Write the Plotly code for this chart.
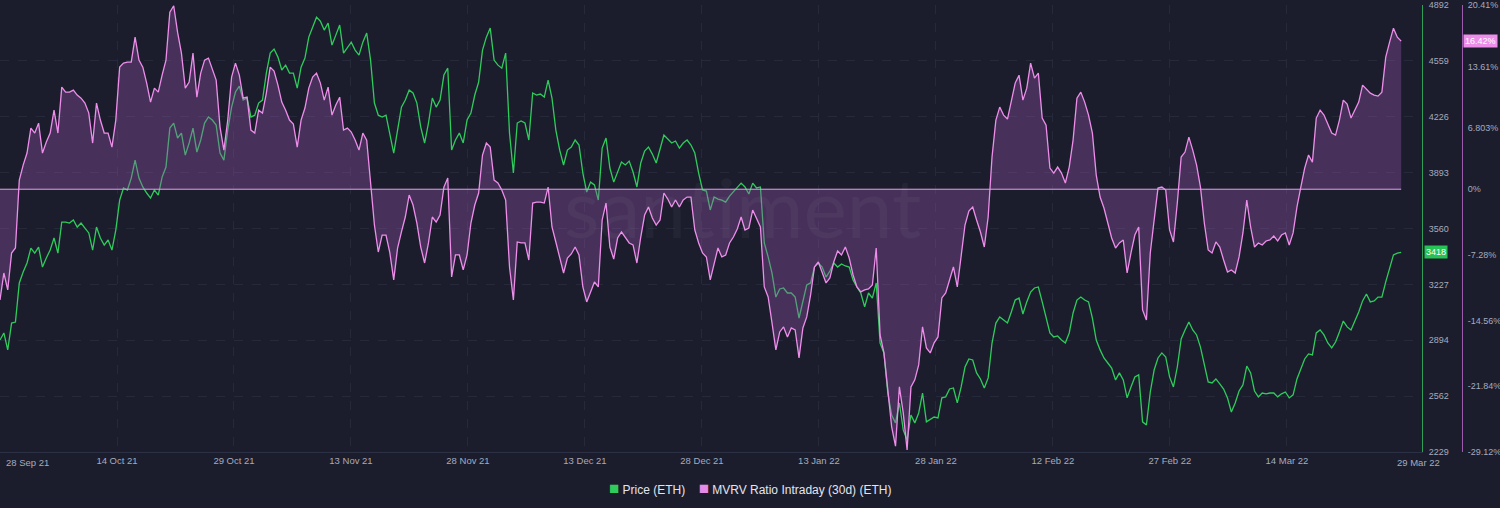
import pandas as pd
import plotly.graph_objects as go

# ---------------- data (12-hourly samples) ----------------
START = "2021-09-28 18:00"
STEP = "12h"

PRICE = [
    2896, 2938, 2837, 2997, 3003, 3236, 3301, 3355, 3444, 3414,
    3450, 3331, 3385, 3432, 3504, 3414, 3599, 3599, 3593, 3611,
    3569, 3593, 3563, 3534, 3432, 3569, 3504, 3462, 3492, 3432,
    3551, 3730, 3802, 3790, 3861, 3968, 3861, 3808, 3772, 3742,
    3790, 3760, 3867, 3927, 4159, 4189, 4100, 4129, 3998, 4070,
    4159, 4016, 4088, 4189, 4225, 4207, 4177, 4010, 3968, 4147,
    4284, 4374, 4409, 4326, 4338, 4225, 4236, 4308, 4326, 4487,
    4606, 4630, 4582, 4505, 4534, 4487, 4487, 4397, 4522, 4576,
    4701, 4761, 4820, 4796, 4743, 4785, 4654, 4713, 4773, 4606,
    4636, 4671, 4624, 4594, 4671, 4725, 4564, 4308, 4236, 4225,
    4236, 4117, 4010, 4147, 4284, 4326, 4385, 4368, 4308, 4165,
    4070, 4189, 4338, 4284, 4326, 4475, 4516, 4028, 4088, 4129,
    4070, 4207, 4248, 4356, 4433, 4624, 4701, 4755, 4564, 4534,
    4516, 4606, 4129, 3891, 4189, 4201, 4189, 4088, 4368, 4356,
    4362, 4344, 4445, 4338, 4147, 4028, 3939, 4028, 4046, 4088,
    4058, 3891, 3778, 3837, 3820, 3730, 4040, 4100, 3921, 3837,
    3897, 3957, 3939, 3962, 3897, 3808, 3951, 4022, 4046, 4004,
    3951, 4028, 4117, 4094, 4070, 4082, 4040, 4070, 4088, 4058,
    4010, 3891, 3790, 3784, 3671, 3748, 3736, 3730, 3718, 3754,
    3778, 3802, 3831, 3808, 3766, 3831, 3802, 3808, 3474, 3391,
    3295, 3152, 3200, 3206, 3176, 3176, 3152, 3027, 3117, 3224,
    3236, 3331, 3355, 3331, 3271, 3307, 3355, 3331, 3349, 3337,
    3331, 3254, 3212, 3176, 3093, 3176, 3146, 3236, 2878, 2819,
    2580, 2449, 2402, 2521, 2360, 2300, 2449, 2402, 2461, 2580,
    2408, 2420, 2437, 2432, 2551, 2557, 2604, 2610, 2521, 2616,
    2735, 2783, 2777, 2700, 2664, 2610, 2670, 2878, 2997, 3033,
    3015, 2997, 3063, 3134, 3146, 3051, 3123, 3182, 3206, 3212,
    3123, 3033, 2938, 2914, 2920, 2896, 2878, 2938, 3057, 3134,
    3152, 3134, 3123, 3027, 2896, 2837, 2789, 2759, 2729, 2658,
    2700, 2658, 2551, 2616, 2676, 2688, 2408, 2390, 2586, 2717,
    2789, 2819, 2795, 2676, 2616, 2735, 2902, 2956, 3003, 2956,
    2926, 2854, 2759, 2646, 2640, 2664, 2634, 2604, 2551, 2467,
    2521, 2592, 2628, 2741, 2700, 2592, 2557, 2580, 2575, 2580,
    2580, 2557, 2575, 2586, 2551, 2569, 2664, 2729, 2783, 2813,
    2807, 2938, 2956, 2926, 2878, 2849, 2884, 2944, 3009, 2974,
    2956, 3009, 3063, 3129, 3170, 3123, 3129, 3152, 3152, 3242,
    3331, 3403, 3414, 3418,
]

MVRV = [
    -12.28, -9.29, -11.17, -7.07, -6.52, 1.02, 2.68, 4.01, 6.78, 6.23,
    7.33, 4.01, 5.23, 6.23, 8.77, 6.23, 11.32, 10.77, 10.77, 10.99,
    10.44, 10.10, 9.55, 8.44, 5.12, 9.55, 7.67, 6.23, 6.23, 4.67,
    7.67, 13.54, 13.98, 14.09, 14.09, 16.86, 14.32, 13.54, 11.77, 9.66,
    11.21, 10.77, 12.65, 14.32, 19.63, 20.35, 17.42, 15.09, 11.21, 11.88,
    15.09, 10.21, 12.87, 14.32, 14.54, 13.43, 12.10, 6.89, 4.34, 7.67,
    12.43, 13.98, 12.65, 10.10, 10.21, 6.56, 6.23, 8.77, 8.44, 10.66,
    13.54, 13.10, 11.55, 9.66, 8.77, 7.67, 7.22, 4.67, 7.67, 9.00,
    11.21, 12.43, 12.87, 11.77, 9.88, 11.32, 8.22, 9.33, 10.21, 6.56,
    6.78, 6.34, 5.45, 4.34, 6.23, 5.45, 0.24, -3.97, -6.96, -5.08,
    -5.08, -7.07, -10.06, -6.52, -4.74, -3.08, -0.64, -1.75, -3.75, -6.41,
    -8.18, -5.96, -3.08, -3.64, -2.86, 0.24, 1.24, -9.73, -7.29, -7.29,
    -8.95, -7.29, -3.75, -1.75, -0.42, 3.79, 5.12, 4.67, 1.02, 0.69,
    -0.09, -1.20, -8.62, -12.28, -5.85, -5.96, -5.96, -7.85, -1.53, -1.42,
    -1.42, -1.53, 0.24, -4.19, -5.85, -7.51, -9.29, -7.63, -7.18, -6.41,
    -7.29, -10.84, -12.50, -11.39, -10.28, -10.84, -3.41, -1.53, -6.41, -7.74,
    -5.41, -4.74, -5.30, -5.96, -6.18, -8.18, -5.30, -2.86, -1.97, -3.19,
    -3.97, -3.41, -0.42, -1.09, -1.97, -1.20, -1.97, -1.20, -0.87, -0.87,
    -4.52, -5.96, -7.07, -7.51, -10.06, -8.18, -6.52, -7.51, -7.29, -5.96,
    -5.30, -4.41, -3.08, -4.52, -4.30, -2.31, -3.19, -4.19, -10.84, -11.95,
    -14.83, -17.82, -15.83, -15.27, -16.38, -15.38, -15.60, -18.71, -15.38, -14.16,
    -11.72, -8.62, -8.07, -9.29, -10.39, -9.84, -8.07, -6.85, -7.29, -6.41,
    -7.63, -9.51, -10.84, -11.39, -11.17, -11.06, -10.62, -6.52, -16.16, -18.15,
    -22.58, -26.35, -28.50, -21.92, -24.80, -28.90, -21.92, -21.14, -19.48, -15.27,
    -17.60, -18.15, -17.04, -16.38, -12.06, -11.50, -10.06, -8.62, -10.84, -7.51,
    -3.97, -2.42, -1.97, -3.41, -4.74, -6.41, -3.08, 3.57, 7.67, 9.11,
    8.22, 7.78, 9.88, 11.77, 12.65, 9.88, 11.21, 13.98, 12.32, 12.87,
    7.89, 7.11, 2.35, 1.79, 2.46, 1.79, 0.69, 2.46, 5.45, 10.10,
    10.77, 9.66, 8.22, 6.23, 1.57, -0.87, -2.08, -3.64, -5.41, -6.52,
    -5.96, -5.63, -9.29, -7.07, -5.08, -4.19, -13.39, -14.50, -7.07, -3.41,
    0.13, 0.24, -0.09, -4.52, -5.85, -1.53, 3.57, 4.12, 5.78, 4.34,
    2.68, 0.24, -3.75, -6.74, -7.07, -5.85, -6.41, -7.85, -9.18, -8.95,
    -9.29, -7.51, -4.85, -1.20, -4.19, -6.41, -5.96, -6.18, -5.74, -5.63,
    -5.19, -5.74, -5.08, -4.85, -6.18, -4.85, -1.97, 0.24, 2.35, 3.79,
    3.01, 7.89, 8.77, 8.22, 7.11, 6.23, 6.00, 7.67, 9.88, 9.44,
    7.89, 8.77, 9.66, 11.55, 11.10, 10.66, 10.44, 10.33, 10.77, 14.65,
    16.31, 17.86, 16.86, 16.42,
]

X_TICK_LABELS = ["28 Sep 21", "14 Oct 21", "29 Oct 21", "13 Nov 21", "28 Nov 21",
                 "13 Dec 21", "28 Dec 21", "13 Jan 22", "28 Jan 22", "12 Feb 22",
                 "27 Feb 22", "14 Mar 22", "29 Mar 22"]
PRICE_TICKS = [2229, 2562, 2894, 3227, 3560, 3893, 4226, 4559, 4892]
MVRV_TICKS = [-29.12, -21.84, -14.56, -7.28, 0, 6.803, 13.61, 20.41]
MVRV_TICK_TEXT = ["-29.12%", "-21.84%", "-14.56%", "-7.28%", "0%", "6.803%", "13.61%", "20.41%"]

SERIES_NAMES = ["Price (ETH)", "MVRV Ratio Intraday (30d) (ETH)"]

# ---------------- styling ----------------
BG = "#1b1d2d"
GREEN = "#2fcc5c"
PINK = "#ee8eea"
FILL = "rgba(150, 85, 175, 0.36)"
GRID = "#252939"
FONT = "Liberation Sans, Arial, sans-serif"
TICK_FONT = dict(family=FONT, size=9, color="#a6abbd")
XTICK_FONT = dict(family=FONT, size=9.5, color="#a6abbd")
TICK_STEP_DAYS = 15.155
PX_PER_DAY = 7.72

DATES = pd.date_range(START, periods=len(PRICE), freq=STEP)
t0 = DATES[0]
tick_times = [t0 + pd.Timedelta(days=TICK_STEP_DAYS * k) for k in range(len(X_TICK_LABELS))]
x_end = t0 + pd.Timedelta(days=1422 / PX_PER_DAY)

fig = go.Figure()

# MVRV filled area (to zero)
fig.add_trace(go.Scatter(
    x=DATES, y=MVRV, yaxis="y2", mode="lines", fill="tozeroy",
    fillcolor=FILL, line=dict(width=0, color=PINK), showlegend=False,
    hoverinfo="skip",
))
# Price line
fig.add_trace(go.Scatter(
    x=DATES, y=PRICE, yaxis="y", mode="lines", name=SERIES_NAMES[0],
    line=dict(color=GREEN, width=1.3), showlegend=False,
))
# MVRV line
fig.add_trace(go.Scatter(
    x=DATES, y=MVRV, yaxis="y2", mode="lines", name=SERIES_NAMES[1],
    line=dict(color=PINK, width=1.3), showlegend=False,
))

# zero baseline of MVRV
fig.add_shape(type="line", xref="x", yref="y2", x0=DATES[0], x1=DATES[-1], y0=0, y1=0,
              line=dict(color="#dba6e4", width=1), layer="above")

annotations = [
    # watermark
    dict(text="santiment", xref="paper", yref="paper", x=0.495, y=0.55,
         showarrow=False, font=dict(family="Lato, Liberation Sans, sans-serif", size=82,
                                    color="rgba(255,255,255,0.035)")),
    # first and last date labels
    dict(text=X_TICK_LABELS[0], xref="paper", yref="paper", x=4 / 1500, y=0,
         xanchor="left", yanchor="top", yshift=-3, showarrow=False, font=XTICK_FONT),
    dict(text=X_TICK_LABELS[-1], xref="paper", yref="paper", x=1418 / 1500, y=0,
         xanchor="center", yanchor="top", yshift=-3, showarrow=False, font=XTICK_FONT),
    # last value badges
    dict(text=f"{MVRV[-1]:.2f}%", xref="paper", yref="y2", x=1463 / 1500, y=MVRV[-1],
         xanchor="left", yanchor="middle", showarrow=False, bgcolor=PINK, borderpad=1,
         font=dict(family=FONT, size=9, color="#ffffff")),
    dict(text=f"{PRICE[-1]}", xref="paper", yref="y", x=1424 / 1500, y=PRICE[-1],
         xanchor="left", yanchor="middle", showarrow=False, bgcolor="#27c256", borderpad=1,
         font=dict(family=FONT, size=9, color="#ffffff")),
    # legend
    dict(text=(f"<span style='color:{GREEN};font-size:17px'>■</span> {SERIES_NAMES[0]}"
               f"&nbsp;&nbsp;&nbsp;&nbsp;<span style='color:#e58ae6;font-size:17px'>■</span> {SERIES_NAMES[1]}"),
         xref="paper", yref="paper", x=0.5, y=-37 / 447, xanchor="center", yanchor="middle",
         showarrow=False,
         font=dict(family=FONT, size=12, color="#e4e5ec")),
]

fig.update_layout(
    width=1500, height=508,
    margin=dict(l=0, r=0, t=5, b=56),
    paper_bgcolor=BG, plot_bgcolor=BG,
    showlegend=False,
    hovermode=False,
    xaxis=dict(
        domain=[0, 1422 / 1500], range=[t0, x_end], type="date",
        tickmode="array", tickvals=tick_times[1:-1], ticktext=X_TICK_LABELS[1:-1],
        tickfont=XTICK_FONT, ticks="", showgrid=True, gridcolor=GRID, griddash="dash",
        gridwidth=1, showline=True, linecolor="#2c3044", linewidth=1, zeroline=False,
        fixedrange=True,
    ),
    yaxis=dict(
        side="right", anchor="x", range=[2228.5, 4892.5],
        tickmode="array", tickvals=PRICE_TICKS, ticktext=[str(v) for v in PRICE_TICKS],
        tickfont=TICK_FONT, ticks="", ticklabelstandoff=4, ticklabeloverflow="allow",
        showgrid=True, gridcolor=GRID, griddash="dash", gridwidth=1,
        showline=True, linecolor="#2f9e57", linewidth=1, zeroline=False,
    ),
    yaxis2=dict(
        side="right", anchor="free", overlaying="y", position=1462 / 1500,
        range=[-29.14, 20.43],
        tickmode="array", tickvals=MVRV_TICKS, ticktext=MVRV_TICK_TEXT,
        tickfont=TICK_FONT, ticks="", ticklabelstandoff=3, ticklabeloverflow="allow",
        showgrid=False, showline=True, linecolor="#9d5cab", linewidth=1, zeroline=False,
    ),
    annotations=annotations,
)

fig.write_html("out.html", config={"displayModeBar": False},
               post_script="document.body.style.margin='0px';")
